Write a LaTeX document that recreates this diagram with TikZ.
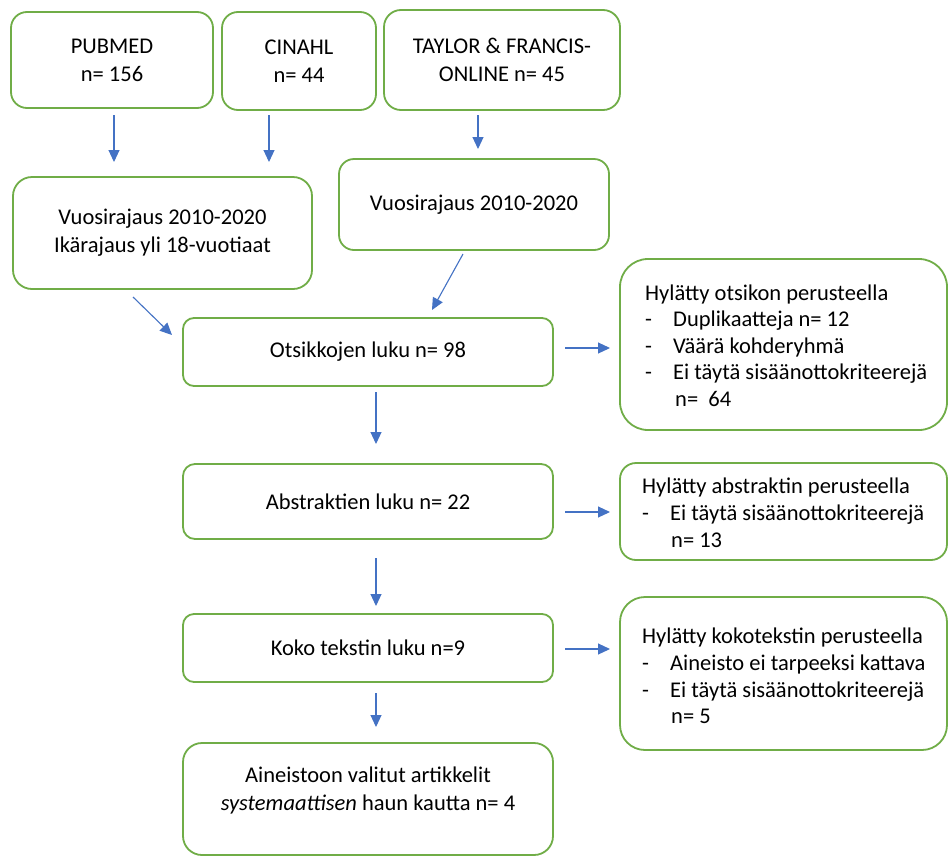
\documentclass[tikz,border=0pt]{standalone}
\usepackage{fontspec}
\setmainfont{Carlito}
\usetikzlibrary{arrows.meta}
\definecolor{boxgreen}{HTML}{70AD47}
\definecolor{arrblue}{HTML}{4472C4}
\begin{document}
\begin{tikzpicture}[x=1pt,y=-1pt,
  box/.style={draw=boxgreen, line width=1.8pt, align=center, inner sep=0pt,
              font=\fontsize{22.5}{28}\selectfont, text=black},
  arr/.style={draw=arrblue, line width=1.1pt, -{Triangle[length=12pt,width=11pt]}},
  txt/.style={inner sep=0pt, anchor=base west, font=\fontsize{22.5}{27}\selectfont, text=black},
  ctxt/.style={inner sep=0pt, align=center, font=\fontsize{22.5}{27.5}\selectfont, text=black}]
\useasboundingbox (0,0) rectangle (949,857);
\fill[white] (0,0) rectangle (949,857);

% top sources
\node[box, minimum width=202pt, minimum height=96pt, rounded corners=16pt] (pub) at (112,60) {PUBMED\\n= 156};
\node[box, minimum width=154pt, minimum height=98pt, rounded corners=16pt] (cin) at (299,61) {CINAHL\\n= 44};
\node[box, minimum width=236pt, minimum height=100pt, rounded corners=17pt] (tay) at (502,60) {TAYLOR \& FRANCIS-\\ONLINE n= 45};

% limits
\node[box, minimum width=299pt, minimum height=112pt, rounded corners=19pt] (vl) at (162.5,233) {Vuosirajaus 2010-2020\\Ikärajaus yli 18-vuotiaat};
\node[box, minimum width=270pt, minimum height=91pt, rounded corners=15pt] (vr) at (474,204.5) {Vuosirajaus 2010-2020};

% main chain
\node[box, minimum width=370pt, minimum height=68pt, rounded corners=11pt] (ots) at (368,352) {Otsikkojen luku n= 98};
\node[box, minimum width=370pt, minimum height=75pt, rounded corners=12pt] (abs) at (368,501.5) {Abstraktien luku n= 22};
\node[box, minimum width=370pt, minimum height=68pt, rounded corners=11pt] (koko) at (368,648) {Koko tekstin luku n=9};
\node[box, minimum width=370pt, minimum height=112pt, rounded corners=19pt] (ain) at (368,799) {};
\node[ctxt] (aint) at (368,790.5) {Aineistoon valitut artikkelit\\\textit{systemaattisen} haun kautta n= 4};

% exclusion boxes
\node[box, minimum width=327pt, minimum height=171pt, rounded corners=28pt] (r1) at (783.5,344.5) {};
\node[box, minimum width=327pt, minimum height=97pt, rounded corners=16pt] (r2) at (783.5,511.5) {};
\node[box, minimum width=327pt, minimum height=153pt, rounded corners=25pt] (r3) at (783.5,673.5) {};

\node[txt] (r1a) at (645,300) {Hylätty otsikon perusteella};
\node[txt] (r1b) at (645,326.5) {\makebox[28pt][l]{-}Duplikaatteja n= 12};
\node[txt] (r1c) at (645,353) {\makebox[28pt][l]{-}Väärä kohderyhmä};
\node[txt] (r1d) at (645,379.5) {\makebox[28pt][l]{-}Ei täytä sisäänottokriteerejä};
\node[txt] (r1e) at (675,406) {n=\ \ 64};

\node[txt] (r2a) at (642,493) {Hylätty abstraktin perusteella};
\node[txt] (r2b) at (642,520) {\makebox[28pt][l]{-}Ei täytä sisäänottokriteerejä};
\node[txt] (r2c) at (671,547) {n= 13};

\node[txt] (r3a) at (642,643) {Hylätty kokotekstin perusteella};
\node[txt] (r3b) at (642,670) {\makebox[28pt][l]{-}Aineisto ei tarpeeksi kattava};
\node[txt] (r3c) at (642,697) {\makebox[28pt][l]{-}Ei täytä sisäänottokriteerejä};
\node[txt] (r3d) at (671,723) {n= 5};

% arrow end points
\coordinate (a1s) at (114,115);  \coordinate (a1e) at (114,162);
\coordinate (a2s) at (269,115);  \coordinate (a2e) at (269,162);
\coordinate (a3s) at (478,115);  \coordinate (a3e) at (478,149);
\coordinate (a4s) at (133,297);  \coordinate (a4e) at (172,335);
\coordinate (a5s) at (463,254);  \coordinate (a5e) at (432,310);
\coordinate (a6s) at (376,392);  \coordinate (a6e) at (376,444);
\coordinate (a7s) at (376,558);  \coordinate (a7e) at (376,606);
\coordinate (a8s) at (376,693);  \coordinate (a8e) at (376,727);
\coordinate (b1s) at (565,348);  \coordinate (b1e) at (610,348);
\coordinate (b2s) at (565,512);  \coordinate (b2e) at (610,512);
\coordinate (b3s) at (565,649);  \coordinate (b3e) at (610,649);

\draw[arr] (a1s) -- (a1e);
\draw[arr] (a2s) -- (a2e);
\draw[arr] (a3s) -- (a3e);
\draw[arr] (a4s) -- (a4e);
\draw[arr] (a5s) -- (a5e);
\draw[arr] (a6s) -- (a6e);
\draw[arr] (a7s) -- (a7e);
\draw[arr] (a8s) -- (a8e);
\draw[arr] (b1s) -- (b1e);
\draw[arr] (b2s) -- (b2e);
\draw[arr] (b3s) -- (b3e);
\end{tikzpicture}
\end{document}
